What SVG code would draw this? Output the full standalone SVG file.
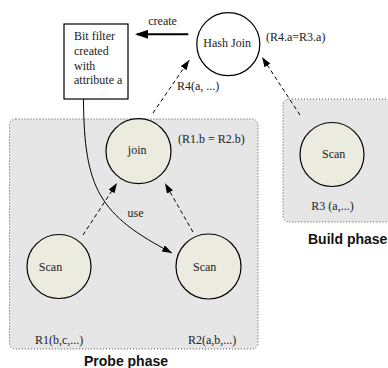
<svg xmlns="http://www.w3.org/2000/svg" width="388" height="368" viewBox="0 0 388 368">
<style>
.phase{fill:#e6e6e6;stroke:#555;stroke-width:1;stroke-dasharray:1,2}
.node{fill:#ecebdf;stroke:#000;stroke-width:1.2}
.hj{fill:#fff;stroke:#000;stroke-width:1.2}
.t{font-family:'Liberation Serif','DejaVu Serif',serif;font-size:12px;fill:#222}
.m{text-anchor:middle}
.ph{font-family:'Liberation Sans',Arial,sans-serif;font-size:14px;font-weight:bold;fill:#111}
.dash{fill:none;stroke:#000;stroke-width:1;stroke-dasharray:4,3}
.solid{fill:none;stroke:#000;stroke-width:1}
</style>
<defs>
<marker id="ah" markerUnits="userSpaceOnUse" markerWidth="10" markerHeight="7" refX="10" refY="3.5" orient="auto">
<path d="M0,0 L10,3.5 L0,7 z" fill="#000"/>
</marker>
<marker id="ahb" markerUnits="userSpaceOnUse" markerWidth="14" markerHeight="9" refX="11" refY="4.5" orient="auto">
<path d="M0,0 L13,4.5 L0,9 z" fill="#000"/>
</marker>
</defs>
<g id="probe-phase">
<rect class="phase" x="9.5" y="119" width="248.5" height="230" rx="6"/>
<text class="ph" x="84" y="366">Probe phase</text>
</g>
<g id="build-phase">
<rect class="phase" x="283" y="99" width="110" height="123" rx="6"/>
<text class="ph" x="308" y="244">Build phase</text>
</g>
<g id="connectors">
<line x1="188.3" y1="34.3" x2="137" y2="34.3" stroke="#000" stroke-width="2" marker-end="url(#ahb)"/>
<text class="t" x="148.3" y="25" font-family="Liberation Serif, serif">create</text>
<line class="dash" x1="300" y1="115" x2="262" y2="57" marker-end="url(#ah)"/>
<line class="dash" x1="153" y1="113" x2="189.3" y2="60" marker-end="url(#ah)"/>
<text class="t" x="177" y="90">R4(a, ...)</text>
<line class="dash" x1="83" y1="235" x2="117" y2="183" marker-end="url(#ah)"/>
<line class="dash" x1="193" y1="232" x2="165" y2="183.3" marker-end="url(#ah)"/>
<path class="solid" d="M83.5,99 C84,190 100,215 172,253" marker-end="url(#ah)"/>
<text class="t" x="127.5" y="216.5">use</text>
</g>
<g id="bit-filter">
<rect x="64" y="24" width="64" height="75" fill="#fff" stroke="#000" stroke-width="1.2"/>
<text class="t" x="74" y="39.5">Bit filter</text>
<text class="t" x="74" y="54.5">created</text>
<text class="t" x="74" y="69.5">with</text>
<text class="t" x="74" y="84">attribute a</text>
</g>
<g id="hash-join">
<circle class="hj" cx="228.3" cy="44.2" r="31.5"/>
<text class="t m" x="227.2" y="47">Hash Join</text>
<text class="t" x="266" y="40.5">(R4.a=R3.a)</text>
</g>
<g id="join">
<circle class="node" cx="138.5" cy="151.2" r="32.5"/>
<text class="t m" x="137.2" y="154">join</text>
<text class="t" x="178" y="143">(R1.b = R2.b)</text>
</g>
<g id="scan-r1">
<circle class="node" cx="59" cy="266.5" r="32"/>
<text class="t m" x="50.5" y="270.5">Scan</text>
<text class="t" x="35" y="344">R1(b,c,...)</text>
</g>
<g id="scan-r2">
<circle class="node" cx="208.5" cy="266.5" r="32.5"/>
<text class="t m" x="204.7" y="270.5">Scan</text>
<text class="t" x="188" y="344">R2(a,b,...)</text>
</g>
<g id="scan-r3">
<circle class="node" cx="332" cy="154.5" r="32"/>
<text class="t m" x="333.7" y="157.7">Scan</text>
<text class="t m" x="332.5" y="210">R3 (a,...)</text>
</g>
</svg>
